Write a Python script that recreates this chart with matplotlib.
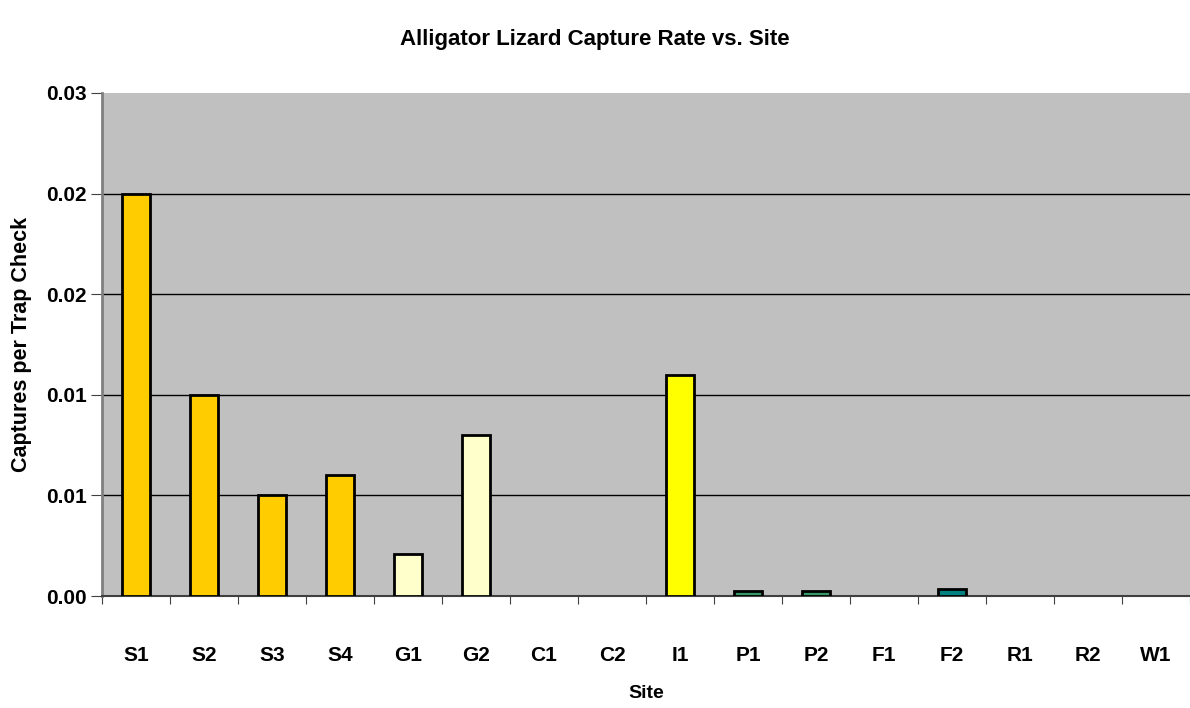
import matplotlib
matplotlib.use("Agg")
from matplotlib import pyplot as plt
import numpy as np

plt.rcParams['font.family'] = ['Liberation Sans', 'DejaVu Sans']
plt.rcParams['font.weight'] = 'bold'

sites = ["S1", "S2", "S3", "S4", "G1", "G2", "C1", "C2",
         "I1", "P1", "P2", "F1", "F2", "R1", "R2", "W1"]
rates = [0.024, 0.012, 0.006, 0.0072, 0.0025, 0.0096, 0.0, 0.0,
         0.0132, 0.0003, 0.0003, 0.0, 0.0004, 0.0, 0.0, 0.0]
colors = ["#FFCC00", "#FFCC00", "#FFCC00", "#FFCC00", "#FFFFCC", "#FFFFCC",
          "#FFFFCC", "#FFFFCC", "#FFFF00", "#339966", "#339966", "#008080",
          "#008080", "#008080", "#008080", "#008080"]
yticks = [0.0, 0.006, 0.012, 0.018, 0.024, 0.03]

fig = plt.figure(figsize=(11.9, 7.08), dpi=100)
ax = fig.add_axes([102 / 1190, 1 - 596 / 708, 1 - 102 / 1190, (596 - 93) / 708])
ax.set_facecolor("#C0C0C0")

x = np.arange(len(sites))
for xi, val, col in zip(x, rates, colors):
    if val > 0:
        ax.bar(xi, val, width=0.41, color=col, edgecolor="black", linewidth=2, zorder=3)

ax.set_xlim(-0.5, len(sites) - 0.5)
ax.set_ylim(0, 0.03)
ax.set_yticks(yticks)
ax.set_yticklabels([f"{v:.2f}" for v in yticks], fontsize=15, fontweight='bold')
ax.yaxis.grid(True, color="black", linewidth=1, zorder=1)
ax.set_axisbelow(True)
ax.yaxis.get_gridlines()[-1].set_visible(False)

ax.set_xticks(np.arange(len(sites) + 1) - 0.5)
ax.set_xticklabels([])
ax.set_xticks(x, minor=True)
ax.set_xticklabels(sites, minor=True, fontsize=15, fontweight='bold')
ax.tick_params(axis='x', which='minor', length=0, pad=36)
ax.tick_params(axis='x', which='major', length=6, direction='out', color="#404040")
ax.tick_params(axis='y', length=8, direction='out', color="#404040", pad=3)

for s in ["top", "right"]:
    ax.spines[s].set_visible(False)
ax.spines["left"].set_color("#808080")
ax.spines["left"].set_linewidth(2)
ax.spines["bottom"].set_color("#404040")
ax.spines["bottom"].set_linewidth(1.5)

ax.set_ylabel("Captures per Trap Check", fontsize=15.5, fontweight='bold', labelpad=10)
fig.text(0.5 + 0.5 * 102 / 1190, 1 - 693 / 708, "Site",
         ha="center", va="center", fontsize=14, fontweight='bold')
fig.text(0.5, 1 - 40 / 708, "Alligator Lizard Capture Rate vs. Site",
         ha="center", va="center", fontsize=16, fontweight='bold')

fig.savefig("out.png", dpi=100)
